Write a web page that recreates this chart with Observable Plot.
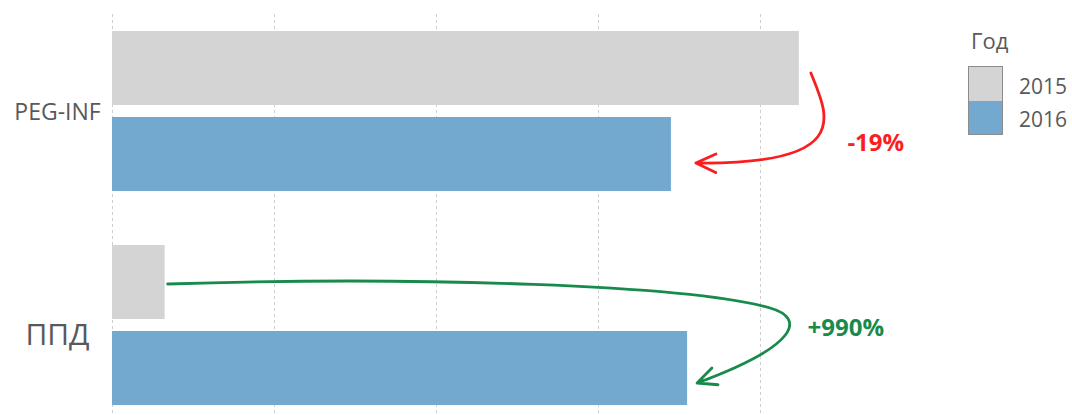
<!DOCTYPE html>
<html>
<head>
<meta charset="utf-8">
<script src="https://cdn.jsdelivr.net/npm/d3@7"></script>
<script src="https://cdn.jsdelivr.net/npm/@observablehq/plot@0.6"></script>
<style>
  body { margin: 0; background: #fff; }
  #wrap { position: relative; width: 1072px; height: 415px; font-family: "Open Sans", "Noto Sans", sans-serif; }
  #legend { position: absolute; left: 968px; top: 0; color: #595959; }
  #legend .title { position: absolute; left: 3px; top: 27px; font-size: 22px; line-height: 26px; white-space: nowrap; }
  #legend .sw { position: absolute; left: 0; width: 33px; border: 1px solid #8c8c8c; box-sizing: content-box; }
  #legend .lab { position: absolute; left: 51px; font-size: 21px; line-height: 24px; white-space: nowrap; }
</style>
</head>
<body>
<div id="wrap"><div id="chart"></div><div id="legend"></div></div>
<script>
// ---- data ----
const categories = ["PEG-INF", "ППД"];
const years = ["2015", "2016"];
const values2015 = [4240, 325];
const values2016 = [3450, 3550];
const changeLabels = ["-19%", "+990%"];
const gridTicks = [0, 1000, 2000, 3000, 4000];
const legendTitle = "Год";

// ---- styles ----
const yearColors = ["#d4d4d4", "#73a8cf"];
const changeColors = ["#fa1e1e", "#178a4c"];
const font = '"Open Sans", "Noto Sans", sans-serif';
const labelStyle = {"PEG-INF": {size: 23, dy: 1}, "ППД": {size: 30, dy: 10}};
const inset = 86;

const rows = [];
categories.forEach((c, i) => {
  rows.push({category: c, year: years[0], value: values2015[i]});
  rows.push({category: c, year: years[1], value: values2016[i]});
});
const changes = categories.map((c, i) => ({category: c, v15: values2015[i], v16: values2016[i], label: changeLabels[i], color: changeColors[i]}));

function arrowHead(tipX, tipY, fromX, fromY, len, ang) {
  const a = Math.atan2(fromY - tipY, fromX - tipX);
  const p1 = [tipX + len * Math.cos(a - ang), tipY + len * Math.sin(a - ang)];
  const p2 = [tipX + len * Math.cos(a + ang), tipY + len * Math.sin(a + ang)];
  return `M${p1[0]},${p1[1]}L${tipX},${tipY}L${p2[0]},${p2[1]}`;
}

function arrowsMark(index, scales) {
  const x = scales.x, y = scales.y;
  const bw = y.bandwidth ? y.bandwidth() : 160;
  const g = d3.create("svg:g").attr("fill", "none").attr("stroke-width", 2.8).attr("stroke-linecap", "round").attr("stroke-linejoin", "round");
  {
    const d = changes[0];
    const top = y(d.category);
    const grayC = top + (bw - inset) / 2, blueC = top + inset + (bw - inset) / 2;
    const sx = x(d.v15) + 12, sy = grayC + 5;
    const ex = x(d.v16) + 25, ey = blueC + 9;
    const c1 = [sx + 17, sy + 42], c2 = [sx + 44, ey + 2];
    g.append("path").attr("stroke", d.color)
      .attr("d", `M${sx},${sy}C${c1},${c2},${ex},${ey}` + arrowHead(ex, ey, c2[0], c2[1], 22, 25 * Math.PI / 180));
  }
  {
    const d = changes[1];
    const top = y(d.category);
    const grayC = top + (bw - inset) / 2, blueC = top + inset + (bw - inset) / 2;
    const sx = x(d.v15) + 3, sy = grayC + 2;
    const ex = x(d.v16) + 10, ey = blueC + 15;
    const mx = ex + 73, my = sy + 24;
    const c2 = [mx + 30, my + 37];
    g.append("path").attr("stroke", d.color)
      .attr("d", `M${sx},${sy}C${sx + 253},${sy - 8},${ex - 7},${sy + 1},${mx},${my}C${mx + 35},${my + 10},${c2},${ex},${ey}` +
        arrowHead(ex, ey, c2[0], c2[1], 21, 25 * Math.PI / 180));
  }
  return g.node();
}

const plot = Plot.plot({
  width: 1072,
  height: 415,
  marginLeft: 112,
  marginRight: 150,
  marginTop: 14,
  marginBottom: 0,
  style: {fontFamily: font, background: "white", overflow: "visible"},
  x: {domain: [0, 5000], axis: null},
  y: {domain: categories, axis: null, paddingInner: 0.251, paddingOuter: 0.0624, align: 0.625},
  color: {domain: years, range: yearColors},
  marks: [
    Plot.ruleX(gridTicks, {x: d => d, stroke: "#cfcfcf", strokeWidth: 1, strokeDasharray: "3,3"}),
    Plot.barX(rows.filter(d => d.year === years[0]), {x: "value", y: "category", fill: "year", insetBottom: inset}),
    Plot.barX(rows.filter(d => d.year === years[1]), {x: "value", y: "category", fill: "year", insetTop: inset}),
    ...categories.map(c => Plot.text([c], {
      y: d => d, text: d => d, frameAnchor: "left", dx: -55, dy: labelStyle[c].dy,
      textAnchor: "middle", fontSize: labelStyle[c].size, fill: "#595959"
    })),
    arrowsMark,
    Plot.text([changes[0]], {x: "v15", y: "category", text: "label", dx: 48, dy: 32, textAnchor: "start", fontSize: 24, fontWeight: "bold", fill: changeColors[0]}),
    Plot.text([changes[1]], {x: "v16", y: "category", text: "label", dx: 120, dy: 3, textAnchor: "start", fontSize: 24, fontWeight: "bold", fill: changeColors[1]})
  ]
});
document.getElementById("chart").appendChild(plot);

// legend
const legend = document.getElementById("legend");
const t = document.createElement("div");
t.className = "title"; t.textContent = legendTitle; legend.appendChild(t);
years.forEach((yr, i) => {
  const sw = document.createElement("div");
  sw.className = "sw";
  sw.style.top = (66 + i * 34.5) + "px";
  sw.style.height = "33.5px";
  sw.style.background = yearColors[i];
  if (i > 0) sw.style.borderTop = "none";
  legend.appendChild(sw);
  const lb = document.createElement("div");
  lb.className = "lab"; lb.textContent = yr;
  lb.style.top = (74 + i * 33) + "px";
  legend.appendChild(lb);
});
</script>
</body>
</html>
